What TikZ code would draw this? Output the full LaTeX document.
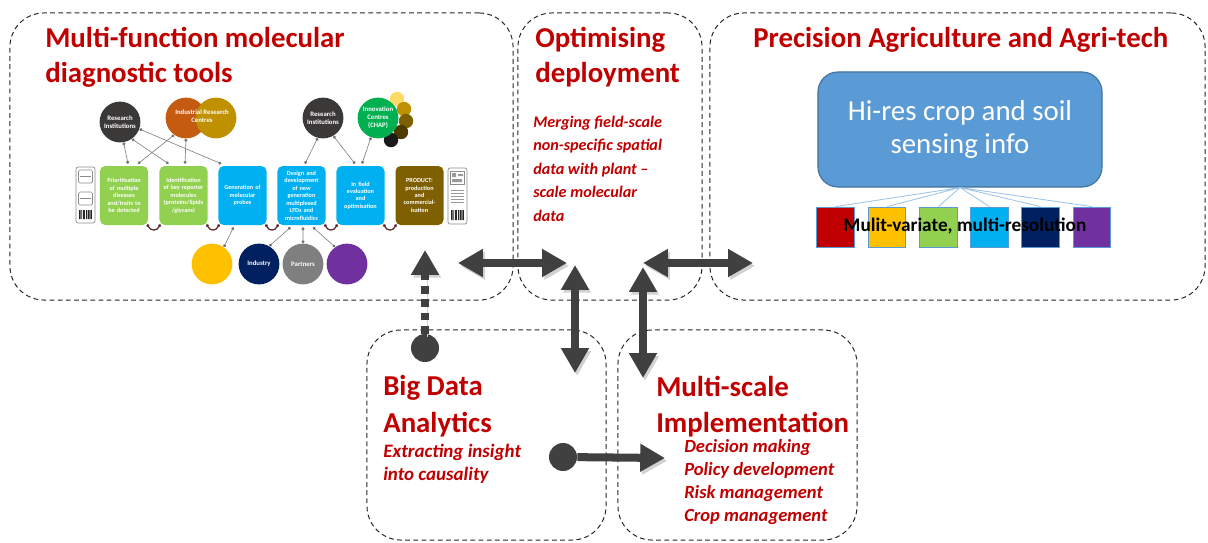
\documentclass[tikz,border=0pt]{standalone}
\usepackage{fontspec}
\setmainfont{Carlito}
\usetikzlibrary{
  arrows.meta,
  positioning,
  calc
}

\definecolor{titlered}{HTML}{C00000}
\definecolor{arrowgray}{HTML}{404040}
\definecolor{darkblob}{HTML}{3B3838}
\definecolor{orangeblob}{HTML}{C55A11}
\definecolor{goldblob}{HTML}{BF9000}
\definecolor{greenblob}{HTML}{00B050}
\definecolor{leafgreen}{HTML}{92D050}
\definecolor{skyblue}{HTML}{00B0F0}
\definecolor{brownbox}{HTML}{7F6000}
\definecolor{yellowblob}{HTML}{FFC000}
\definecolor{navyblob}{HTML}{002060}
\definecolor{greyblob}{HTML}{7F7F7F}
\definecolor{purpleblob}{HTML}{7030A0}
\definecolor{redsq}{HTML}{C00000}
\definecolor{sensefill}{HTML}{5B9BD5}
\definecolor{senseedge}{HTML}{41719C}
\definecolor{sqedge}{HTML}{5B9BD5}
\definecolor{fanline}{HTML}{9DC3E6}
\definecolor{swooshcol}{HTML}{5B2B2B}
\definecolor{dotA}{HTML}{FFD966}
\definecolor{dotB}{HTML}{BF9000}
\definecolor{dotC}{HTML}{7F6000}
\definecolor{dotD}{HTML}{4D3A00}
\definecolor{dotE}{HTML}{1A1A1A}

\begin{document}
\begin{tikzpicture}[
  x=0.025cm, y=-0.025cm,
  region/.style={draw=black!85, line width=0.7pt, dash pattern=on 3.4pt off 2.4pt, rounded corners=0.85cm},
  title/.style={anchor=north west, inner sep=0, align=left, text=titlered, font=\bfseries\fontsize{20.5}{25}\selectfont},
  note/.style={anchor=north west, inner sep=0, align=left, text=titlered, font=\bfseries\itshape\fontsize{11.5}{16.6}\selectfont},
  stepbox/.style={rounded corners=0.13cm, minimum width=1.2cm, minimum height=1.475cm, text width=1.12cm, inner sep=0, align=center, text=white, font=\bfseries\fontsize{4.4}{5.3}\selectfont},
  blob/.style={circle, inner sep=0, minimum size=1.02cm, text=white, align=center, font=\bfseries\fontsize{4.8}{5.6}\selectfont},
  tinyblob/.style={circle, inner sep=0, minimum size=0.36cm},
  card/.style={draw=black!45, fill=white, rounded corners=1.5pt, line width=0.5pt, minimum width=0.475cm, minimum height=1.4cm},
  link/.style={draw=black!50, line width=0.45pt, {Circle[length=2.2pt, fill=black!70]}-{Circle[length=2.2pt, fill=black!70]}},
  swoosh/.style={draw=swooshcol, line width=0.9pt, {Circle[length=2pt]}-{Circle[length=2pt]}},
  bigarrow/.style={draw=arrowgray, line width=5.7pt, -{Triangle[length=0.62cm, width=0.66cm]},
    preaction={draw=black!18, transform canvas={shift={(1.5pt,-2pt)}}}},
  twoway/.style={{Triangle[length=0.62cm, width=0.66cm]}-{Triangle[length=0.62cm, width=0.66cm]}},
  hub/.style={circle, fill=arrowgray, inner sep=0, minimum size=0.7cm},
  sq/.style={draw=sqedge, line width=0.7pt, minimum width=0.93cm, minimum height=1.02cm, inner sep=0}
]
\useasboundingbox (0,0) rectangle (1208,542);

% -------------------------
% Regions (dashed boxes)
% -------------------------
\node[region, minimum width=12.575cm, minimum height=7.175cm] (tools)     at (261.5,156.5) {};
\node[region, minimum width=4.6cm,    minimum height=7.175cm] (deploy)    at (610,156.5)   {};
\node[region, minimum width=12.375cm, minimum height=7.175cm] (precision) at (957.5,156.5) {};
\node[region, minimum width=5.975cm,  minimum height=5.25cm]  (bigdata)   at (486.5,435)   {};
\node[region, minimum width=5.975cm,  minimum height=5.25cm]  (multi)     at (737.5,435)   {};

% -------------------------
% Titles and notes
% -------------------------
\node[title] (toolstitle)  at (45,27)   {Multi-function molecular\\diagnostic tools};
\node[title] (deploytitle) at (535,27)  {Optimising\\deployment};
\node[title] (agrititle)   at (753,27)  {Precision Agriculture and Agri-tech};
\node[title, font=\bfseries\fontsize{20.5}{26}\selectfont] (bigtitle) at (383,375) {Big Data\\Analytics};
\node[title, font=\bfseries\fontsize{20.5}{25.5}\selectfont] (multititle) at (656,376) {Multi-scale\\Implementation};

\node[note] (deploynote) at (533,116) {Merging field-scale\\non-specific spatial\\data with plant --\\scale molecular\\data};
\node[note, font=\bfseries\itshape\fontsize{13.5}{16.4}\selectfont] (bignote) at (383,444) {Extracting insight\\into causality};
\node[note, font=\bfseries\itshape\fontsize{13.2}{16.4}\selectfont] (multinote) at (684,439)
  {Decision making\\Policy development\\Risk management\\Crop management};

% -------------------------
% Molecular tools chart
% -------------------------
\node[blob, fill=darkblob]   (resA) at (120,122) {Research\\Institutions};
\node[blob, fill=orangeblob] (indA) at (186,118) {};
\node[blob, fill=goldblob]   (indB) at (216,118) {};
\node[text=white, align=center, inner sep=0, font=\bfseries\fontsize{4.8}{5.6}\selectfont] (indtext) at (202,116) {Industrial Research\\Centres};
\node[blob, fill=darkblob]   (resB) at (323,118) {Research\\Institutions};
\node[tinyblob, fill=dotA] (dotA) at (397,99)  {};
\node[tinyblob, fill=dotB] (dotB) at (404,109) {};
\node[tinyblob, fill=dotC] (dotC) at (406,121) {};
\node[tinyblob, fill=dotD] (dotD) at (401,132) {};
\node[tinyblob, fill=dotE] (dotE) at (391,140) {};
\node[blob, fill=greenblob]  (innov) at (378,118) {Innovation\\Centres\\(CHAP)};

\node[card] (cardA) at (85.5,195) {};
\node[stepbox, fill=leafgreen] (prio)    at (124,195.5)   {Prioritisation\\of multiple\\diseases\\and/traits to\\be detected};
\node[stepbox, fill=leafgreen] (ident)   at (183.5,195.5) {Identification\\of key reporter\\molecules\\(proteins/lipids\\/glycans)};
\node[stepbox, fill=skyblue]   (probes)  at (242.5,195.5) {Generation of\\molecular\\probes};
\node[stepbox, fill=skyblue]   (design)  at (301.5,195.5) {Design and\\development\\of new\\generation\\multiplexed\\LFDs and\\microfluidics};
\node[stepbox, fill=skyblue]   (infield) at (360.5,195.5) {In field\\evaluation\\and\\optimisation};
\node[stepbox, fill=brownbox]  (product) at (419.5,195.5) {PRODUCT:\\production\\and\\commercial-\\isation};
\node[card] (cardB) at (457.5,196) {};

\node[blob, fill=yellowblob] (partA)    at (212,264) {};
\node[blob, fill=navyblob]   (industry) at (259,264) {Industry};
\node[blob, fill=greyblob]   (partners) at (303,264) {Partners};
\node[blob, fill=purpleblob] (partB)    at (347,264) {};

% card details
\draw[black!45, line width=0.4pt, rounded corners=1pt] (78.5,170) rectangle (92.5,183) (78.5,192) rectangle (92.5,205);
\draw[black!45, line width=0.4pt] (80,176.5) -- (91,176.5) (80,198.5) -- (91,198.5);
\fill[black!85] (79,210) rectangle (80.6,219) (81.4,210) rectangle (82.2,219) (83,210) rectangle (84.8,219)
  (86.2,210) rectangle (87,219) (87.8,210) rectangle (89.6,219) (90.4,210) rectangle (91.8,219);
\draw[black!45, line width=0.4pt] (450.5,171) rectangle (464.5,184);
\fill[black!40] (452,173) rectangle (456,177) (458,174) rectangle (463,176) (452,179) rectangle (462,182);
\draw[black!40, line width=0.5pt] (451,190) -- (464,190) (451,193) -- (464,193) (451,196) -- (464,196)
  (451,199) -- (464,199) (451,202) -- (464,202);
\fill[black!85] (451,210) rectangle (452.6,220) (453.4,210) rectangle (454.2,220) (455,210) rectangle (456.8,220)
  (458.2,210) rectangle (459,220) (459.8,210) rectangle (461.6,220) (462.4,210) rectangle (463.8,220);

% links
\draw[link] (resA.-80)  -- ($(prio.north)+(4,-2)$);
\draw[link] (resA.-55)  -- ($(ident.north)+(-15,-2)$);
\draw[link] (resA.-20)  -- ($(probes.north west)+(3,-2)$);
\draw[link] (indA.-125) -- ($(prio.north)+(14,-2)$);
\draw[link] (indA.-90)  -- ($(ident.north)+(1.5,-2)$);
\draw[link] (resB.-105) -- ($(design.north)+(3.5,-2)$);
\draw[link] (resB.-60)  -- ($(infield.north)+(-5.5,-2)$);
\draw[link] (innov.-110) -- ($(infield.north)+(1.5,-2)$);

\draw[link] ($(probes.south)+(-9,2)$) -- (partA.55);
\draw[link] ($(design.south)+(-11,2)$) -- (industry.60);
\draw[link] ($(design.south)+(1.5,2)$) -- (partners.north);
\draw[link] ($(design.south)+(11.5,2)$) -- (partB.125);

% swooshes
\draw[swoosh] ($(prio.south east)+(-1,-1)$)    .. controls +(3,7) and +(-3,7) .. ($(ident.south west)+(1,-1)$);
\draw[swoosh] ($(ident.south east)+(-1,-1)$)   .. controls +(3,7) and +(-3,7) .. ($(probes.south west)+(1,-1)$);
\draw[swoosh] ($(probes.south east)+(-1,-1)$)  .. controls +(3,7) and +(-3,7) .. ($(design.south west)+(1,-1)$);
\draw[swoosh] ($(design.south east)+(-1,-1)$)  .. controls +(3,7) and +(-3,7) .. ($(infield.south west)+(1,-1)$);
\draw[swoosh] ($(infield.south east)+(-1,-1)$) .. controls +(3,7) and +(-3,7) .. ($(product.south west)+(1,-1)$);

% -------------------------
% Sensing block
% -------------------------
\node[fill=sensefill, draw=senseedge, line width=0.8pt, rounded corners=0.5cm,
  minimum width=7.1cm, minimum height=2.875cm, align=center, text=white,
  font=\fontsize{20.5}{24}\selectfont] (sense) at (960,129.5) {Hi-res crop and soil\\sensing info};

\node[sq, fill=redsq]       (sqA) at (835.5,227.5)  {};
\node[sq, fill=yellowblob]  (sqB) at (887,227.5)    {};
\node[sq, fill=leafgreen]   (sqC) at (938.5,227.5)  {};
\node[sq, fill=skyblue]     (sqD) at (989.5,227.5)  {};
\node[sq, fill=navyblob]    (sqE) at (1040.5,227.5) {};
\node[sq, fill=purpleblob]  (sqF) at (1092,227.5)   {};

\draw[fanline, line width=0.6pt] (sense.south) -- (sqA.north) (sense.south) -- (sqB.north)
  (sense.south) -- (sqC.north) (sense.south) -- (sqD.north)
  (sense.south) -- (sqE.north) (sense.south) -- (sqF.north);

\node[font=\bfseries\fontsize{13.7}{16}\selectfont, inner sep=0] (mvtext) at (965,226) {Mulit-variate, multi-resolution};

% -------------------------
% Big arrows
% -------------------------
\coordinate (toolsR)  at (458,263);
\coordinate (deployL) at (567,263);
\coordinate (deployB) at (575,265);
\coordinate (bigT)    at (575,373);
\coordinate (deployR) at (643,263);
\coordinate (agriL)   at (753,263);
\coordinate (deployB2) at (643,267);
\coordinate (multiT)  at (643,378);
\coordinate (toolsB)  at (425,250);
\coordinate (multiL)  at (665,458);

\node[hub] (bigHubA) at (425,348) {};
\node[hub] (bigHubB) at (563,457) {};

\draw[bigarrow, twoway] (toolsR) -- (deployL);
\draw[bigarrow, twoway] (deployB) -- (bigT);
\draw[bigarrow, twoway] (deployR) -- (agriL);
\draw[bigarrow, twoway] (deployB2) -- (multiT);
\draw[bigarrow, dash pattern=on 5.5pt off 4pt] (bigHubA) -- (toolsB);
\draw[bigarrow] (bigHubB) -- (multiL);

\end{tikzpicture}
\end{document}
